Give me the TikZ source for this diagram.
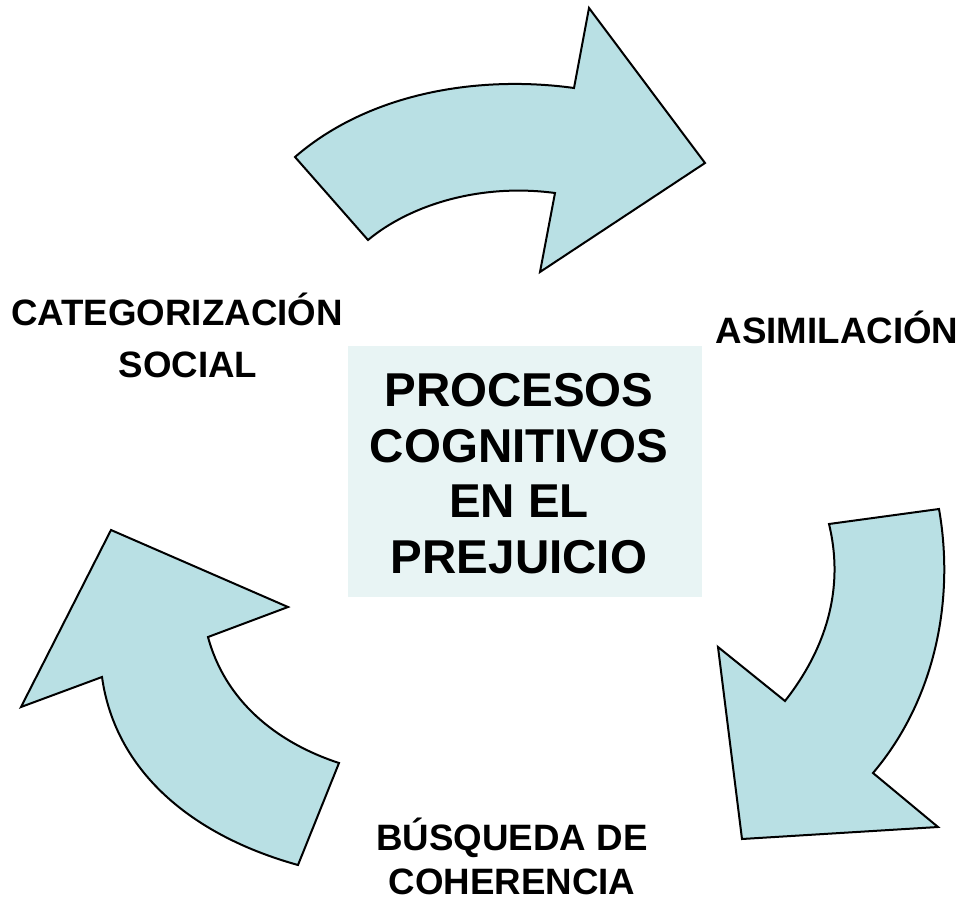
\documentclass[tikz,border=0pt]{standalone}
\usepackage{fontspec}
\setmainfont{Liberation Sans}
\definecolor{arrowfill}{RGB}{185,224,228}
\definecolor{boxfill}{RGB}{232,244,244}
\begin{document}
\begin{tikzpicture}[x=1pt,y=-1pt,
  arrowshape/.style={fill=arrowfill, draw=black, line width=2pt, line join=miter},
  lbl/.style={font=\bfseries\fontsize{36.7}{52}\selectfont, align=center, inner sep=0pt, anchor=base},
  title/.style={font=\bfseries\fontsize{47.5}{55.5}\selectfont, align=center, inner sep=0pt, anchor=base}]
\useasboundingbox (0,0) rectangle (967,902);
% central box
\fill[boxfill] (348,346) rectangle (702,597);
% top arrow
\draw[arrowshape] (295,157) .. controls (370,92) and (480,75) .. (574,88) -- (589,8) -- (705,163) -- (540,272) -- (555,193) .. controls (480,183) and (410,205) .. (368,240) -- cycle;
% right arrow
\draw[arrowshape] (829,524) -- (939,509) .. controls (955,600) and (935,700) .. (873,773) -- (938,827) -- (742,839) -- (718,647) -- (785,701) .. controls (825,650) and (845,590) .. (829,524) -- cycle;
% left arrow
\draw[arrowshape] (339,763) -- (298,865) .. controls (190,835) and (115,770) .. (102,677) -- (21,707) -- (111,530) -- (288,607) -- (208,637) .. controls (225,700) and (275,742) .. (339,763) -- cycle;
% texts
\node[title] (centro) at (519,573) {PROCESOS\\COGNITIVOS\\EN EL\\PREJUICIO};
\node[lbl] (categ) at (177,377) {CATEGORIZACIÓN\\\hspace*{22pt}SOCIAL};
\node[lbl] (asim) at (837,343) {ASIMILACIÓN};
\node[lbl, font=\bfseries\fontsize{36.7}{44}\selectfont] (busq) at (512,894) {BÚSQUEDA DE\\COHERENCIA};
\end{tikzpicture}
\end{document}
